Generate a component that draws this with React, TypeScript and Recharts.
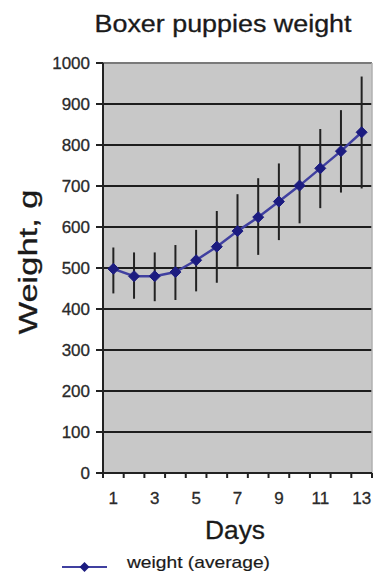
import React from "react";
import {
  LineChart,
  Line,
  XAxis,
  YAxis,
  CartesianGrid,
  ErrorBar,
  ReferenceLine,
} from "recharts";

const days = [1, 2, 3, 4, 5, 6, 7, 8, 9, 10, 11, 12, 13];
const weightAvg = [498, 480, 480, 490, 519, 552, 590, 624, 662, 701, 743, 785, 831];
const weightLow = [438, 425, 419, 422, 443, 464, 503, 532, 568, 609, 646, 684, 694];
const weightHigh = [550, 538, 538, 556, 593, 639, 680, 719, 755, 798, 839, 885, 967];
const yTicks = [0, 100, 200, 300, 400, 500, 600, 700, 800, 900, 1000];
const xTickMarks = [0.5, 1.5, 2.5, 3.5, 4.5, 5.5, 6.5, 7.5, 8.5, 9.5, 10.5, 11.5, 12.5, 13.5];
const xTickLabels = [1, 3, 5, 7, 9, 11, 13];

const TITLE = "Boxer puppies weight";
const X_LABEL = "Days";
const Y_LABEL = "Weight, g";
const SERIES_NAME = "weight (average)";

const data = days.map((d, i) => ({
  day: d,
  avg: weightAvg[i],
  err: [weightAvg[i] - weightLow[i], weightHigh[i] - weightAvg[i]],
}));

const allXTicks = [...xTickMarks, ...xTickLabels].sort((a, b) => a - b);

const FONT = "'Liberation Sans', Arial, sans-serif";
const LINE_COLOR = "#4040a0";
const MARKER_COLOR = "#1c1c80";

const Diamond = (props: any) => {
  const { cx, cy, index } = props;
  if (cx == null || cy == null) return <g key={index} />;
  const r = 5.5;
  return (
    <path
      key={index}
      d={`M${cx},${cy - r} L${cx + r},${cy} L${cx},${cy + r} L${cx - r},${cy} Z`}
      fill={MARKER_COLOR}
      stroke={MARKER_COLOR}
    />
  );
};

const XTick = (props: any) => {
  const { x, y, payload } = props;
  const v = payload.value;
  if (v % 1 !== 0) {
    return <line x1={x} x2={x} y1={y} y2={y + 5} stroke="#222" strokeWidth={2} />;
  }
  if (xTickLabels.includes(v)) {
    return (
      <text
        x={x}
        y={y + 31}
        textAnchor="middle"
        fontFamily={FONT}
        fontSize={17}
        fill="#2a2a2a"
        stroke="#2a2a2a"
        strokeWidth={0.3}
      >
        {v}
      </text>
    );
  }
  return <g />;
};

export default function App() {
  return (
    <div style={{ position: "absolute", left: 0, top: 0, width: 378, height: 576, background: "#fff" }}>
      <LineChart
        width={378}
        height={576}
        data={data}
        margin={{ top: 63, right: 6, bottom: 0, left: 0 }}
      >
        <CartesianGrid
          vertical={false}
          horizontal={true}
          stroke="#1e1e1e"
          strokeWidth={2}
          fill="#c8c8c8"
          fillOpacity={1}
        />
        <ReferenceLine y={1000} stroke="#9a9a9a" strokeWidth={1.5} />
        <ReferenceLine x={13.5} stroke="#b0b0b0" strokeWidth={1.5} />
        <XAxis
          dataKey="day"
          type="number"
          domain={[0.5, 13.5]}
          ticks={allXTicks}
          interval={0}
          height={103}
          axisLine={{ stroke: "#222", strokeWidth: 2 }}
          tickLine={false}
          tickSize={0}
          tickMargin={0}
          tick={<XTick />}
        />
        <YAxis
          type="number"
          domain={[0, 1000]}
          ticks={yTicks}
          interval={0}
          width={103}
          axisLine={{ stroke: "#222", strokeWidth: 2 }}
          tickLine={{ stroke: "#222", strokeWidth: 2 }}
          tickSize={7}
          tickMargin={6}
          tick={{ fontFamily: FONT, fontSize: 17, fill: "#2a2a2a", stroke: "#2a2a2a", strokeWidth: 0.3 }}
        />
        <Line
          dataKey="avg"
          type="linear"
          stroke={LINE_COLOR}
          strokeWidth={2.5}
          dot={<Diamond />}
          isAnimationActive={false}
        >
          <ErrorBar dataKey="err" width={0} stroke="#222" strokeWidth={2} direction="y" />
        </Line>
      </LineChart>
      <svg
        width={378}
        height={576}
        style={{ position: "absolute", left: 0, top: 0, pointerEvents: "none" }}
      >
        <text
          x={223}
          y={32}
          textAnchor="middle"
          fontFamily={FONT}
          fontSize={23}
          fill="#1a1a1a"
          stroke="#1a1a1a"
          strokeWidth={0.3}
          textLength={257}
          lengthAdjust="spacingAndGlyphs"
        >
          {TITLE}
        </text>
        <text
          x={235}
          y={539}
          textAnchor="middle"
          fontFamily={FONT}
          fontSize={25}
          fill="#1a1a1a"
          stroke="#1a1a1a"
          strokeWidth={0.3}
          textLength={60}
          lengthAdjust="spacingAndGlyphs"
        >
          {X_LABEL}
        </text>
        <text
          transform="translate(37,262) rotate(-90)"
          x={0}
          y={0}
          textAnchor="middle"
          fontFamily={FONT}
          fontSize={25}
          fill="#1a1a1a"
          stroke="#1a1a1a"
          strokeWidth={0.3}
          textLength={145}
          lengthAdjust="spacingAndGlyphs"
        >
          {Y_LABEL}
        </text>
        <line x1={62} x2={107} y1={567} y2={567} stroke={LINE_COLOR} strokeWidth={2} />
        <path d="M84.5,562 L89.5,567 L84.5,572 L79.5,567 Z" fill={MARKER_COLOR} />
        <text
          x={127}
          y={568}
          fontFamily={FONT}
          fontSize={17}
          fill="#1a1a1a"
          stroke="#1a1a1a"
          strokeWidth={0.2}
          textLength={143}
          lengthAdjust="spacingAndGlyphs"
        >
          {SERIES_NAME}
        </text>
      </svg>
    </div>
  );
}
